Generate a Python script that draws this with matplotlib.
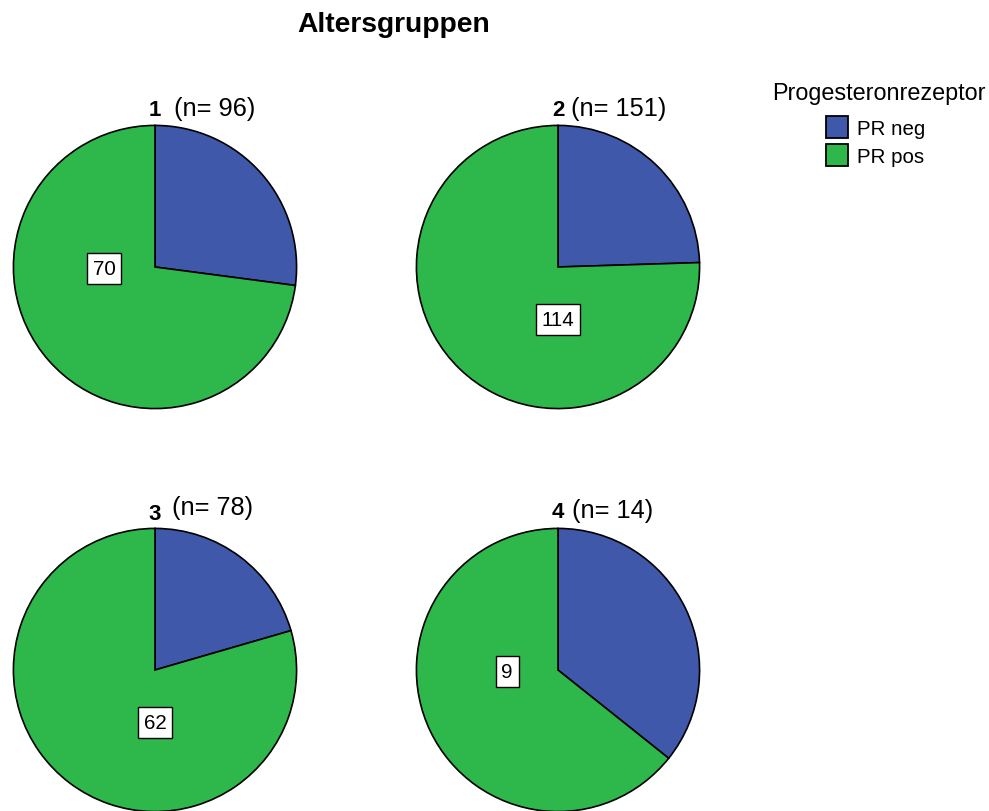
import matplotlib
matplotlib.use("Agg")
import matplotlib.pyplot as plt
from matplotlib.patches import Rectangle

plt.rcParams["font.family"] = ["Liberation Sans", "DejaVu Sans"]

# Data
title = "Altersgruppen"
groups = ["1", "2", "3", "4"]
categories = ["PR neg", "PR pos"]
pr_neg = [26, 37, 16, 5]
pr_pos = [70, 114, 62, 9]
legend_title = "Progesteronrezeptor"
colors = ["#3f58aa", "#2eb84b"]

# Layout (pixels, origin top-left)
W, H = 989, 812
centers = [(155, 268), (558, 268), (155, 671), (558, 671)]
radius = 143
label_dir = [(-1, 0), (0, -1), (0, -1), (-1, 0)]   # where the value box sits
num_baseline = [116, 116, 520, 518]
n_baseline = [116, 116, 515, 518]
n_offset = [19, 13, 17, 14]

fig = plt.figure(figsize=(W / 100, H / 100), dpi=100)


def fx(px):
    return px / W


def fy(py):
    return 1 - py / H


for i, g in enumerate(groups):
    cx, cy = centers[i]
    ax = fig.add_axes([fx(cx - radius), fy(cy + radius),
                       2 * radius / W, 2 * radius / H])
    vals = [pr_neg[i], pr_pos[i]]
    ax.pie(vals, colors=colors, startangle=90, counterclock=False,
           radius=1.0, wedgeprops=dict(edgecolor="black", linewidth=1.2))
    ax.set_xlim(-1.01, 1.01)
    ax.set_ylim(-1.01, 1.01)
    ax.set_aspect("equal")
    ax.axis("off")
    dx, dy = label_dir[i]
    ax.text(0.36 * dx, 0.36 * dy - 0.012, str(pr_pos[i]), ha="center",
            va="center", fontsize=14.8,
            bbox=dict(boxstyle="square,pad=0.28", facecolor="white",
                      edgecolor="black", linewidth=1.0))

    n = pr_neg[i] + pr_pos[i]
    fig.text(fx(cx), fy(num_baseline[i]), g, ha="center", va="baseline",
             fontsize=16, fontweight="bold")
    fig.text(fx(cx + n_offset[i]), fy(n_baseline[i]), f"(n= {n})",
             ha="left", va="baseline", fontsize=18.3)

fig.text(fx(394), fy(32), title, ha="center", va="baseline",
         fontsize=20.3, fontweight="bold")

# Legend
fig.text(fx(879), fy(100), legend_title, ha="center", va="baseline",
         fontsize=16.8)
for k, (cat, col) in enumerate(zip(categories, colors)):
    top = 117 + k * 28
    fig.patches.append(Rectangle((fx(826), fy(top + 22)), 22 / W, 22 / H,
                                 facecolor=col, edgecolor="black",
                                 linewidth=1.3, transform=fig.transFigure))
    fig.text(fx(857), fy(top + 18), cat, ha="left", va="baseline",
             fontsize=14.8)

fig.savefig("out.png", dpi=100, facecolor="white")
